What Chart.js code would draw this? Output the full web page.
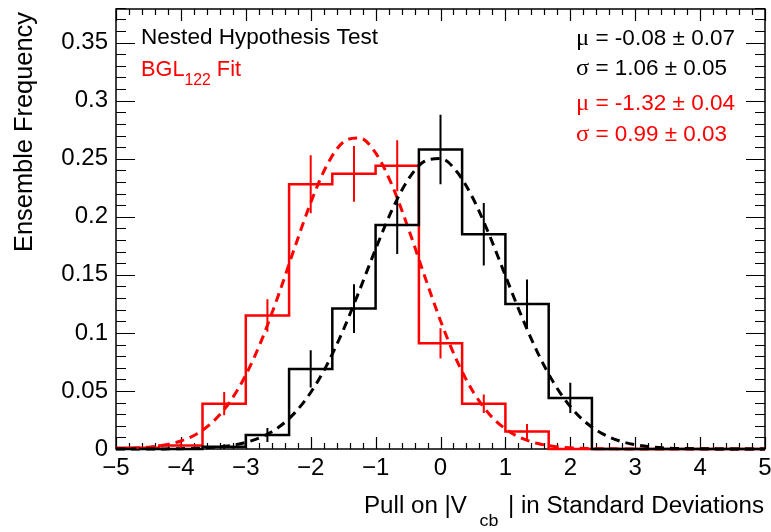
<!DOCTYPE html>
<html>
<head>
<meta charset="utf-8">
<script src="https://cdn.jsdelivr.net/npm/chart.js@4.4.1/dist/chart.umd.min.js"></script>
<style>
  html, body { margin: 0; padding: 0; background: #fff; }
  #wrap { width: 771px; height: 532px; position: relative; }
</style>
</head>
<body>
<div id="wrap"><canvas id="c" width="771" height="532"></canvas></div>
<script>
// histogram binning (pull, in sigma)
const binEdges = [-5, -4.333, -3.667, -3, -2.333, -1.667, -1, -0.333, 0.333, 1, 1.667, 2.333, 3, 3.667, 4.333, 5];
const binCenters = [-4.667, -4, -3.333, -2.667, -2, -1.333, -0.667, 0, 0.667, 1.333, 2, 2.667, 3.333, 4, 4.667];

// nested hypothesis test (black)
const nestedFreq = [0, 0, 0.002, 0.012, 0.069, 0.121, 0.193, 0.258, 0.185, 0.125, 0.044, 0, 0, 0, 0];
const nestedErr  = [0, 0, 0.002, 0.006, 0.016, 0.021, 0.025, 0.030, 0.027, 0.021, 0.013, 0, 0, 0, 0];

// BGL122 fit (red)
const bglFreq = [0.001, 0.003, 0.039, 0.115, 0.228, 0.237, 0.244, 0.091, 0.039, 0.015, 0, 0, 0, 0, 0];
const bglErr  = [0.001, 0.002, 0.010, 0.014, 0.025, 0.024, 0.022, 0.013, 0.008, 0.0065, 0, 0, 0, 0, 0];

// gaussian fit curves
const fitX = [-5, -4.75, -4.5, -4.25, -4, -3.75, -3.5, -3.25, -3, -2.75, -2.5, -2.25, -2, -1.75, -1.5, -1.25, -1, -0.75, -0.5, -0.25,
              0, 0.25, 0.5, 0.75, 1, 1.25, 1.5, 1.75, 2, 2.25, 2.5, 2.75, 3, 3.25, 3.5, 3.75, 4, 4.25, 4.5, 4.75, 5];
const nestedFit = [0, 0, 0, 0.0001, 0.0003, 0.0006, 0.0014, 0.0029, 0.0057, 0.0105, 0.0185, 0.0309, 0.0487, 0.0725, 0.1023, 0.1364, 0.1722, 0.2055, 0.2320, 0.2477,
                   0.2502, 0.2390, 0.2160, 0.1847, 0.1493, 0.1142, 0.0826, 0.0565, 0.0366, 0.0224, 0.0130, 0.0071, 0.0037, 0.0018, 0.0008, 0.0004, 0.0002, 0.0001, 0, 0, 0];
const bglFit = [0.0003, 0.0007, 0.0016, 0.0034, 0.0069, 0.0132, 0.0238, 0.0402, 0.0637, 0.0947, 0.1321, 0.1729, 0.2122, 0.2445, 0.2643, 0.2680, 0.2550, 0.2277, 0.1907, 0.1498,
                0.1105, 0.0764, 0.0496, 0.0302, 0.0173, 0.0093, 0.0047, 0.0022, 0.0010, 0.0004, 0.0002, 0.0001, 0, 0, 0, 0, 0, 0, 0, 0, 0];

const xTickValues = [-5, -4, -3, -2, -1, 0, 1, 2, 3, 4, 5];
const xTickLabels = ['\u22125', '\u22124', '\u22123', '\u22122', '\u22121', '0', '1', '2', '3', '4', '5'];
const yTickValues = [0, 0.05, 0.1, 0.15, 0.2, 0.25, 0.3, 0.35];
const yTickLabels = ['0', '0.05', '0.1', '0.15', '0.2', '0.25', '0.3', '0.35'];

const SANS = '"Liberation Sans", Arial, Helvetica, sans-serif';
const SERIF = '"Liberation Serif", "Times New Roman", serif';
const RED = '#ff0000';

function histPoints(freq){
  return binEdges.map((e, i) => ({x: e, y: freq[Math.min(i, freq.length - 1)]}));
}
function curvePoints(ys){
  return fitX.map((x, i) => ({x: x, y: ys[i]}));
}

// draw a row of text pieces squeezed/stretched to a given width
function drawParts(ctx, parts, x, y, width){
  let total = 0;
  parts.forEach(p => {
    if(p.gap){ total += p.gap; return; }
    ctx.font = p.font; p.w = ctx.measureText(p.t).width; total += p.w;
  });
  const s = width ? width / total : 1;
  ctx.save();
  ctx.translate(x, y);
  ctx.scale(s, 1);
  let cx = 0;
  parts.forEach(p => {
    if(p.gap){ cx += p.gap; return; }
    ctx.font = p.font; ctx.fillStyle = p.color || '#000';
    ctx.textBaseline = 'alphabetic'; ctx.textAlign = 'left';
    ctx.fillText(p.t, cx, p.dy || 0);
    cx += p.w;
  });
  ctx.restore();
}

const frame = {
  id: 'frame',
  beforeDatasetsDraw(chart){
    const {ctx, chartArea: a, scales: {x, y}} = chart;
    ctx.save();
    ctx.strokeStyle = '#000';
    ctx.lineWidth = 1.5;
    ctx.strokeRect(a.left, a.top, a.right - a.left, a.bottom - a.top);
    ctx.lineWidth = 1.2;
    ctx.beginPath();
    for(let i = 0; i <= 50; i++){
      const v = -5 + i * 0.2;
      const px = Math.round(x.getPixelForValue(v)) + 0.5;
      const len = (i % 5 === 0) ? 12 : 6;
      ctx.moveTo(px, a.bottom); ctx.lineTo(px, a.bottom - len);
      ctx.moveTo(px, a.top); ctx.lineTo(px, a.top + len);
    }
    for(let i = 0; i <= 38; i++){
      const v = i * 0.01;
      const py = Math.round(y.getPixelForValue(v)) + 0.5;
      const len = (i % 5 === 0) ? 19 : 10;
      ctx.moveTo(a.left, py); ctx.lineTo(a.left + len, py);
      ctx.moveTo(a.right, py); ctx.lineTo(a.right - len, py);
    }
    ctx.stroke();
    ctx.restore();
  },
  afterDatasetsDraw(chart){
    const {ctx, scales: {x, y}} = chart;
    const bars = (vals, errs, color) => {
      ctx.strokeStyle = color; ctx.lineWidth = 2;
      ctx.beginPath();
      binCenters.forEach((c, i) => {
        if(!errs[i]) return;
        const px = x.getPixelForValue(c);
        ctx.moveTo(px, y.getPixelForValue(vals[i] - errs[i]));
        ctx.lineTo(px, y.getPixelForValue(vals[i] + errs[i]));
      });
      ctx.stroke();
    };
    ctx.save();
    bars(nestedFreq, nestedErr, '#000');
    bars(bglFreq, bglErr, RED);
    ctx.restore();
  },
  afterDraw(chart){
    const ctx = chart.ctx;
    // axis titles
    ctx.save();
    ctx.translate(32, 252);
    ctx.rotate(-Math.PI / 2);
    drawParts(ctx, [{t: 'Ensemble Frequency', font: '25px ' + SANS}], 0, 0, 240);
    ctx.restore();
    drawParts(ctx, [
      {t: 'Pull on |V', font: '23px ' + SANS},
      {gap: 12},
      {t: 'cb', font: '17px ' + SANS, dy: 13},
      {gap: 9},
      {t: '| in Standard Deviations', font: '23px ' + SANS}
    ], 364, 513, 400);

    // labels
    drawParts(ctx, [{t: 'Nested Hypothesis Test', font: '22px ' + SANS}], 141, 44, 237);
    drawParts(ctx, [
      {t: 'BGL', font: '22px ' + SANS, color: RED},
      {t: '122', font: '16px ' + SANS, color: RED, dy: 9},
      {t: ' Fit', font: '22px ' + SANS, color: RED}
    ], 141, 76, 100);

    const stat = (g, rest, color, yb, w) => drawParts(ctx, [
      {t: g, font: '24px ' + SERIF, color: color},
      {t: rest, font: '22px ' + SANS, color: color}
    ], 576, yb, w);
    stat('\u03bc', ' = -0.08 \u00b1 0.07', '#000', 45, 159);
    stat('\u03c3', ' = 1.06 \u00b1 0.05', '#000', 75, 151);
    stat('\u03bc', ' = -1.32 \u00b1 0.04', RED, 110, 159);
    stat('\u03c3', ' = 0.99 \u00b1 0.03', RED, 141, 151);
  }
};

new Chart(document.getElementById('c'), {
  type: 'line',
  data: {
    datasets: [
      {data: histPoints(nestedFreq), stepped: true, borderColor: '#000', borderWidth: 2.5, pointRadius: 0, fill: false, clip: false},
      {data: curvePoints(nestedFit), borderColor: '#000', borderWidth: 3, borderDash: [9, 6], pointRadius: 0, fill: false,
       cubicInterpolationMode: 'monotone', clip: false},
      {data: histPoints(bglFreq), stepped: true, borderColor: RED, borderWidth: 2.5, pointRadius: 0, fill: false, clip: false},
      {data: curvePoints(bglFit), borderColor: RED, borderWidth: 3, borderDash: [9, 6], pointRadius: 0, fill: false,
       cubicInterpolationMode: 'monotone', clip: false}
    ]
  },
  options: {
    responsive: false,
    animation: false,
    layout: {padding: {left: 0, right: 6, top: 9, bottom: 0}},
    plugins: {legend: {display: false}, tooltip: {enabled: false}},
    scales: {
      x: {
        type: 'linear', min: -5, max: 5,
        grid: {display: false, drawTicks: false},
        border: {display: false},
        ticks: {
          font: {family: SANS, size: 24}, color: '#000', padding: 5,
          autoSkip: false, maxRotation: 0, minRotation: 0,
          callback: (v, i) => xTickLabels[i]
        },
        afterBuildTicks: s => { s.ticks = xTickValues.map(v => ({value: v})); },
        afterFit: s => { s.height = 83; s.paddingLeft = 0; s.paddingRight = 0; }
      },
      y: {
        type: 'linear', min: 0, max: 0.379,
        grid: {display: false, drawTicks: false},
        border: {display: false},
        ticks: {
          font: {family: SANS, size: 24}, color: '#000', padding: 8,
          callback: (v, i) => yTickLabels[i]
        },
        afterBuildTicks: s => { s.ticks = yTickValues.map(v => ({value: v})); },
        afterFit: s => { s.width = 116; s.paddingTop = 0; s.paddingBottom = 0; }
      }
    }
  },
  plugins: [frame]
});
</script>
</body>
</html>
